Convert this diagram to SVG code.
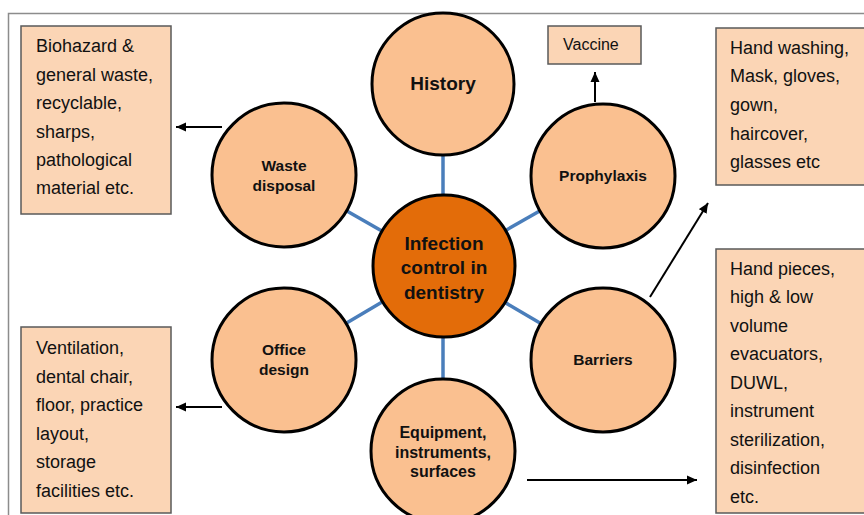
<svg xmlns="http://www.w3.org/2000/svg" width="864" height="515" viewBox="0 0 864 515">
<style>
.frame{fill:none;stroke:#8c8c8c;stroke-width:1.5}
.box{fill:#FBD5B5;stroke:#5a5a5a;stroke-width:1.5}
.bt{font-family:"Liberation Sans",Arial,sans-serif;font-size:18px;fill:#111}
.node{fill:#FAC090;stroke:#000;stroke-width:3}
.core{fill:#E36C09;stroke:#000;stroke-width:3}
.nt{font-family:"Liberation Sans",Arial,sans-serif;font-weight:bold;font-size:15.5px;fill:#111;text-anchor:middle}
.big{font-size:19px}
.spoke{stroke:#4A7EBB;stroke-width:3.5}
.arr{stroke:#000;stroke-width:2;fill:none;marker-end:url(#ah)}
</style>
<defs>
<marker id="ah" viewBox="0 0 10 10" refX="10" refY="5" markerWidth="10" markerHeight="10" markerUnits="userSpaceOnUse" orient="auto">
<path d="M0,0.5 L10,5 L0,9.5 z" fill="#000"/>
</marker>
</defs>
<rect width="864" height="515" fill="#fff"/>
<path class="frame" d="M8.5,515 V13.5 H864"/>
<g id="connectors">
<line class="spoke" x1="443" y1="266" x2="443" y2="84"/>
<line class="spoke" x1="443" y1="266" x2="443" y2="451"/>
<line class="spoke" x1="443" y1="266" x2="284" y2="175"/>
<line class="spoke" x1="443" y1="266" x2="603" y2="175"/>
<line class="spoke" x1="443" y1="266" x2="284" y2="360"/>
<line class="spoke" x1="443" y1="266" x2="603" y2="360"/>
<line class="arr" x1="222" y1="127" x2="176" y2="127"/>
<line class="arr" x1="222" y1="407" x2="176" y2="407"/>
<line class="arr" x1="595" y1="102" x2="595" y2="72"/>
<line class="arr" x1="650" y1="297" x2="708" y2="203"/>
<line class="arr" x1="527" y1="480" x2="697" y2="480"/>
</g>
<g id="box-waste">
<rect class="box" x="21" y="26" width="150" height="188"/>
<text class="bt" x="36" y="52">Biohazard &amp;</text>
<text class="bt" x="36" y="80.5">general waste,</text>
<text class="bt" x="36" y="109">recyclable,</text>
<text class="bt" x="36" y="137.5">sharps,</text>
<text class="bt" x="36" y="166">pathological</text>
<text class="bt" x="36" y="194">material etc.</text>
</g>
<g id="box-office">
<rect class="box" x="21" y="327" width="150" height="186"/>
<text class="bt" x="36" y="354">Ventilation,</text>
<text class="bt" x="36" y="382.5">dental chair,</text>
<text class="bt" x="36" y="411">floor, practice</text>
<text class="bt" x="36" y="439.5">layout,</text>
<text class="bt" x="36" y="468">storage</text>
<text class="bt" x="36" y="496.5">facilities etc.</text>
</g>
<g id="box-vaccine">
<rect class="box" x="548" y="26" width="93" height="38"/>
<text class="bt" x="563" y="50" style="font-size:16px">Vaccine</text>
</g>
<g id="box-ppe">
<rect class="box" x="716" y="28" width="160" height="157"/>
<text class="bt" x="730" y="53.5">Hand washing,</text>
<text class="bt" x="730" y="82">Mask, gloves,</text>
<text class="bt" x="730" y="111">gown,</text>
<text class="bt" x="730" y="139.5">haircover,</text>
<text class="bt" x="730" y="168">glasses etc</text>
</g>
<g id="box-equipment">
<rect class="box" x="716" y="249" width="160" height="264"/>
<text class="bt" x="730" y="274.5">Hand pieces,</text>
<text class="bt" x="730" y="303">high &amp; low</text>
<text class="bt" x="730" y="331.5">volume</text>
<text class="bt" x="730" y="360">evacuators,</text>
<text class="bt" x="730" y="388.5">DUWL,</text>
<text class="bt" x="730" y="417">instrument</text>
<text class="bt" x="730" y="445.5">sterilization,</text>
<text class="bt" x="730" y="474">disinfection</text>
<text class="bt" x="730" y="502.5">etc.</text>
</g>
<g id="node-history">
<circle class="node" cx="443" cy="84" r="71"/>
<text class="nt big" x="443" y="90">History</text>
</g>
<g id="node-waste">
<circle class="node" cx="284" cy="175" r="72"/>
<text class="nt" x="284" y="171">Waste</text>
<text class="nt" x="284" y="191">disposal</text>
</g>
<g id="node-prophylaxis">
<circle class="node" cx="603" cy="176" r="72"/>
<text class="nt" x="603" y="181">Prophylaxis</text>
</g>
<g id="node-office">
<circle class="node" cx="284" cy="360" r="72"/>
<text class="nt" x="284" y="355">Office</text>
<text class="nt" x="284" y="375">design</text>
</g>
<g id="node-barriers">
<circle class="node" cx="603" cy="360" r="72"/>
<text class="nt" x="603" y="365">Barriers</text>
</g>
<g id="node-equipment">
<circle class="node" cx="443" cy="451" r="72"/>
<text class="nt" x="443" y="438" style="font-size:16px">Equipment,</text>
<text class="nt" x="443" y="457.5" style="font-size:16px">instruments,</text>
<text class="nt" x="443" y="477" style="font-size:16px">surfaces</text>
</g>
<g id="node-center">
<circle class="core" cx="444" cy="266" r="71"/>
<text class="nt big" x="444" y="249.5">Infection</text>
<text class="nt big" x="444" y="274">control in</text>
<text class="nt big" x="444" y="298.5">dentistry</text>
</g>
</svg>
